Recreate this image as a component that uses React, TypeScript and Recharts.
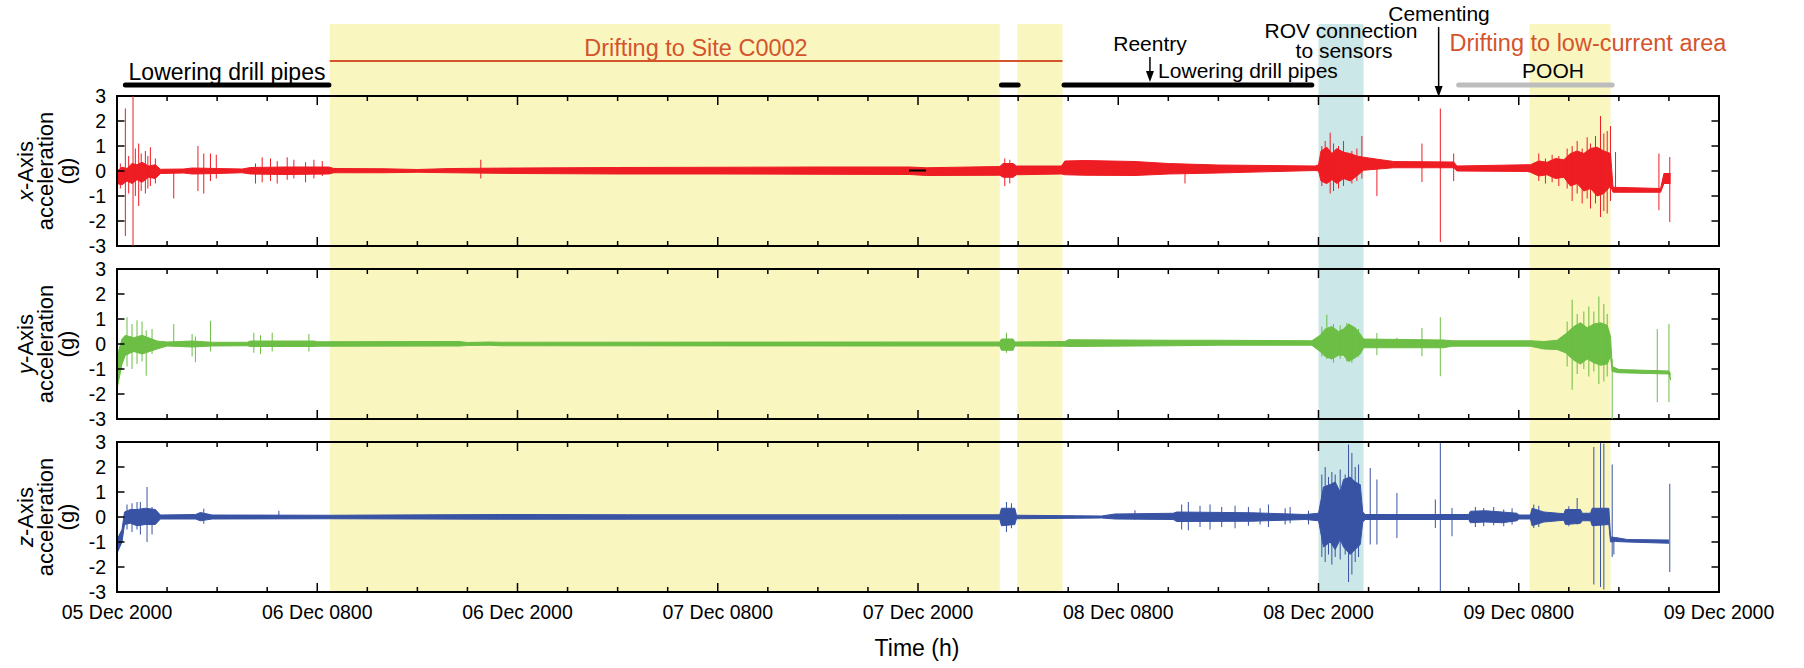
import {
  Area,
  ComposedChart,
  ReferenceArea,
  ReferenceLine,
  XAxis,
  YAxis,
} from "recharts";

const W = 1804;
const H = 668;
const PLOT_LEFT = 117;
const PLOT_RIGHT = 1719;
const PANEL_H = 150;
const Y_W = 40;
const FONT = '"Liberation Sans", Arial, Helvetica, sans-serif';

// hours since 05 Dec 2000 20:00
const timeLabels = [
  "05 Dec 2000",
  "06 Dec 0800",
  "06 Dec 2000",
  "07 Dec 0800",
  "07 Dec 2000",
  "08 Dec 0800",
  "08 Dec 2000",
  "09 Dec 0800",
  "09 Dec 2000",
];
const majorTicks = [0, 12, 24, 36, 48, 60, 72, 84, 96];
const minorTicks = [3, 6, 9, 15, 18, 21, 27, 30, 33, 39, 42, 45, 51, 54, 57, 63, 66, 69, 75, 78, 81, 87, 90, 93];
const gTicks = [-3, -2, -1, 0, 1, 2, 3];

// shaded periods
const yellowSpans: [number, number][] = [
  [12.75, 52.9],
  [53.95, 56.66],
  [84.65, 89.5],
];
const rovSpan: [number, number] = [72.0, 74.7];

// operation bars on top
const loweringBars: [number, number][] = [
  [0.5, 12.7],
  [53.0, 54.0],
  [56.75, 71.6],
];
const driftBar: [number, number] = [12.75, 56.66];
const poohBar: [number, number] = [80.4, 89.6];
const reentryAt = 61.9;
const cementingAt = 79.2;

// envelope of each record: [hour, low, high] in g
const xBand: [number, number, number][] = [
  [0, -0.5, 0.0], [0.3, -0.55, 0.15], [0.6, -0.4, 0.1], [0.9, -0.5, 0.3],
  [1.2, -0.35, 0.25], [1.5, -0.45, 0.35], [1.9, -0.25, 0.2], [2.3, -0.3, 0.25],
  [2.6, -0.1, 0.07], [4.0, -0.08, 0.08], [4.5, -0.12, 0.12], [6.0, -0.1, 0.1],
  [7.5, -0.07, 0.08], [8.0, -0.12, 0.14], [10.0, -0.14, 0.16], [12.7, -0.12, 0.16],
  [13.0, -0.07, 0.1], [16.0, -0.07, 0.09], [18.0, -0.05, 0.06], [20.0, -0.07, 0.1],
  [24.0, -0.1, 0.12], [30.0, -0.12, 0.14], [36.0, -0.12, 0.15], [42.0, -0.13, 0.16],
  [47.5, -0.14, 0.16], [48.5, -0.18, 0.13], [52.9, -0.17, 0.18], [53.1, -0.25, 0.3],
  [53.7, -0.25, 0.3], [53.9, -0.15, 0.2], [56.6, -0.12, 0.2], [56.8, -0.15, 0.4],
  [58.0, -0.17, 0.42], [61.0, -0.18, 0.38], [63.0, -0.12, 0.3], [66.0, -0.08, 0.24],
  [71.8, 0.02, 0.2], [72.0, 0.0, 0.25], [72.15, -0.4, 0.8], [72.5, -0.5, 0.95],
  [72.8, -0.35, 0.7], [73.1, -0.5, 0.9], [73.5, -0.3, 0.75], [73.9, -0.4, 0.7],
  [74.3, -0.2, 0.6], [74.7, 0.03, 0.55], [76.5, 0.13, 0.38], [80.1, 0.13, 0.36],
  [80.3, 0.0, 0.2], [84.5, -0.02, 0.25], [84.7, -0.05, 0.25], [85.2, -0.2, 0.4],
  [85.7, -0.15, 0.35], [86.2, -0.3, 0.5], [86.7, -0.25, 0.45], [87.1, -0.6, 0.7],
  [87.5, -0.5, 0.8], [87.9, -0.8, 0.7], [88.3, -0.7, 0.9], [88.7, -1.0, 0.95],
  [89.1, -0.9, 0.8], [89.5, -0.6, 0.7], [89.65, -0.85, -0.65], [92.5, -0.85, -0.7],
  [92.7, -0.5, -0.1], [93.1, -0.5, -0.1],
];
const xSpikes: [number, number, number][] = [
  [0.2, -0.7, 0.3], [0.5, -2.6, 2.5], [0.7, -0.9, 0.6], [0.96, -3, 3], [1.1, -1.0, 0.9],
  [1.3, -1.4, 1.1], [1.45, -0.8, 0.7], [1.7, -0.9, 0.8], [1.85, -0.7, 0.6], [2.0, -0.6, 0.95],
  [2.3, -0.5, 0.5], [3.4, -1.1, 0], [4.85, -0.8, 1.0], [5.2, -0.9, 0.7], [5.6, -0.4, 0.7],
  [5.95, -0.3, 0.65], [8.3, -0.5, 0.3], [8.7, -0.45, 0.55], [9.2, -0.4, 0.5], [9.6, -0.5, 0.4],
  [10.2, -0.35, 0.55], [10.6, -0.3, 0.45], [11.3, -0.45, 0.35], [11.8, -0.3, 0.45],
  [12.3, -0.2, 0.4], [21.8, -0.3, 0.45], [53.2, -0.6, 0.5], [53.5, -0.5, 0.45],
  [64.0, -0.5, 0.2], [72.2, -0.6, 1.0], [72.4, -0.5, 1.2], [72.7, -0.9, 1.53],
  [72.9, -0.8, 1.1], [73.2, -0.7, 1.0], [73.5, -0.6, 1.2], [74.0, -0.5, 0.8],
  [74.3, -0.4, 0.9], [74.6, -0.3, 1.4], [75.5, -1.0, 0.2], [78.2, -0.44, 1.1],
  [79.3, -2.84, 2.5], [80.1, -0.4, 0.7], [85.2, -0.4, 0.7], [85.6, -0.5, 0.5],
  [86.0, -0.45, 0.65], [86.4, -0.6, 0.6], [86.9, -0.7, 0.9], [87.2, -1.2, 1.0],
  [87.5, -0.9, 1.2], [87.8, -1.3, 0.9], [88.1, -1.1, 1.35], [88.3, -1.5, 1.1],
  [88.6, -1.3, 1.4], [88.9, -1.84, 2.2], [89.1, -1.6, 1.5], [89.3, -1.7, 1.6],
  [89.5, -1.2, 1.8], [89.8, -0.7, 0.76], [92.4, -1.57, 0.7], [93.05, -2.04, 0.56],
];

const yBand: [number, number, number][] = [
  [0, -1.8, -0.5], [0.3, -0.8, 0.2], [0.5, -0.45, 0.35], [1.0, -0.3, 0.25],
  [1.5, -0.4, 0.35], [2.4, -0.2, 0.12], [3.0, -0.08, 0.08], [4.5, -0.12, 0.12],
  [5.7, -0.08, 0.07], [7.8, -0.07, 0.07], [8.0, -0.1, 0.12], [11.8, -0.1, 0.12],
  [12.0, -0.09, 0.09], [20.5, -0.08, 0.1], [21.0, -0.06, 0.06], [22.3, -0.05, 0.08],
  [23.0, -0.07, 0.07], [46.9, -0.08, 0.08], [52.9, -0.08, 0.08], [53.0, -0.25, 0.2],
  [53.7, -0.25, 0.2], [53.8, -0.08, 0.08], [56.8, -0.09, 0.1], [57.0, -0.1, 0.17],
  [63.3, -0.07, 0.15], [66.0, -0.05, 0.15], [71.6, -0.05, 0.13], [72.1, -0.3, 0.35],
  [72.4, -0.5, 0.6], [72.8, -0.6, 0.7], [73.2, -0.45, 0.5], [73.5, -0.45, 0.6],
  [73.8, -0.7, 0.8], [74.2, -0.55, 0.65], [74.5, -0.4, 0.4], [74.7, -0.15, 0.2],
  [79.5, -0.15, 0.16], [80.0, -0.09, 0.13], [84.7, -0.09, 0.13], [85.5, -0.2, 0.1],
  [86.3, -0.22, 0.15], [86.8, -0.35, 0.4], [87.3, -0.65, 0.7], [87.7, -0.8, 0.85],
  [88.1, -0.6, 0.65], [88.5, -0.75, 0.8], [88.9, -0.85, 0.85], [89.3, -0.8, 0.75],
  [89.5, -0.5, 0.3], [89.6, -1.1, -0.9], [90.0, -1.15, -1.02], [93.0, -1.2, -1.08],
  [93.1, -1.45, -1.2],
];
const ySpikes: [number, number, number][] = [
  [0.6, -0.9, 1.07], [0.9, -1.0, 0.8], [1.2, -0.8, 0.95], [1.5, -0.7, 0.9],
  [1.75, -1.27, 0.55], [2.1, -0.4, 0.6], [3.4, -0.1, 0.8], [4.5, -0.5, 0.4],
  [4.7, -0.73, 0.3], [5.6, -0.3, 0.93], [8.2, -0.35, 0.45], [8.6, -0.4, 0.35],
  [9.3, -0.3, 0.45], [11.5, -0.3, 0.4], [53.3, -0.35, 0.45], [72.2, -0.5, 0.7],
  [72.5, -0.6, 1.17], [72.9, -0.75, 0.8], [73.3, -0.6, 0.75], [73.7, -0.7, 0.84],
  [74.0, -0.76, 0.7], [74.4, -0.5, 0.6], [75.5, -0.45, 0.44], [76.7, -0.1, 0.25],
  [78.2, -0.49, 0.64], [79.3, -1.29, 1.07], [86.9, -0.9, 0.9], [87.2, -1.83, 1.77],
  [87.5, -1.2, 1.2], [87.9, -1.0, 1.3], [88.2, -1.3, 1.5], [88.5, -1.1, 1.3],
  [88.8, -1.6, 1.9], [89.1, -1.5, 1.6], [89.3, -1.3, 1.2], [89.6, -3.0, -0.6],
  [92.3, -2.33, 0.6], [93.0, -2.33, 0.8],
];

const zBand: [number, number, number][] = [
  [0, -1.45, -0.9], [0.3, -1.0, -0.5], [0.45, -0.3, 0.2], [0.8, -0.25, 0.3],
  [1.2, -0.35, 0.3], [1.7, -0.3, 0.35], [2.3, -0.3, 0.3], [2.6, -0.08, 0.08],
  [4.7, -0.08, 0.1], [5.0, -0.15, 0.18], [5.7, -0.08, 0.08], [12.75, -0.07, 0.07],
  [23.0, -0.09, 0.1], [30.6, -0.09, 0.09], [46.9, -0.09, 0.09], [52.9, -0.09, 0.09],
  [53.0, -0.35, 0.35], [53.8, -0.3, 0.35], [53.9, -0.07, 0.07], [57.5, -0.05, 0.05],
  [59.0, -0.04, 0.04], [59.8, -0.08, 0.12], [63.3, -0.1, 0.15], [63.5, -0.18, 0.2],
  [68.0, -0.17, 0.17], [71.2, -0.1, 0.1], [72.0, -0.15, 0.15], [72.1, -0.5, 0.5],
  [72.3, -1.2, 1.2], [72.7, -1.0, 1.3], [73.0, -1.3, 1.4], [73.3, -0.9, 1.0],
  [73.5, -1.2, 1.5], [73.9, -1.5, 1.6], [74.2, -1.3, 1.4], [74.5, -1.1, 1.3],
  [74.65, -0.2, 0.2], [74.8, -0.1, 0.1], [81.0, -0.1, 0.1], [81.1, -0.23, 0.23],
  [82.0, -0.2, 0.25], [83.0, -0.23, 0.2], [83.9, -0.15, 0.15], [84.0, -0.08, 0.08],
  [84.7, -0.08, 0.08], [84.8, -0.35, 0.35], [85.5, -0.2, 0.2], [86.7, -0.13, 0.13],
  [86.8, -0.3, 0.3], [87.7, -0.25, 0.3], [87.8, -0.15, 0.15], [88.3, -0.15, 0.15],
  [88.4, -0.35, 0.35], [89.4, -0.3, 0.35], [89.5, -1.0, -0.8], [89.8, -0.98, -0.82],
  [90.5, -1.0, -0.9], [93.0, -1.05, -0.92],
];
const zSpikes: [number, number, number][] = [
  [0.6, -0.5, 0.5], [0.9, -0.6, 0.55], [1.2, -0.5, 0.6], [1.4, -0.7, 0.6],
  [1.8, -1.0, 1.2], [2.1, -0.7, 0.4], [5.2, -0.27, 0.33], [9.7, -0.05, 0.25],
  [53.3, -0.6, 0.6], [53.6, -0.45, 0.55], [61.0, -0.1, 0.27], [63.8, -0.5, 0.5],
  [64.2, -0.53, 0.6], [64.9, -0.4, 0.45], [65.5, -0.5, 0.5], [66.2, -0.4, 0.4],
  [67.0, -0.45, 0.45], [67.8, -0.35, 0.4], [68.5, -0.3, 0.35], [69.0, -0.4, 0.5],
  [70.0, -0.3, 0.35], [70.3, -0.25, 0.4], [71.4, -0.3, 0.25], [72.2, -1.6, 1.7],
  [72.4, -1.8, 2.0], [72.6, -1.5, 1.6], [72.8, -1.9, 1.8], [73.0, -1.6, 1.7],
  [73.3, -1.7, 1.9], [73.6, -1.5, 1.7], [73.8, -2.6, 2.9], [74.0, -2.3, 2.56],
  [74.2, -1.8, 2.0], [74.4, -1.6, 2.1], [75.1, -1.1, 1.96], [75.5, -1.1, 1.5],
  [76.7, -0.84, 0.96], [79.0, -0.44, 0.7], [79.3, -2.97, 2.96], [80.0, -0.77, 0.36],
  [81.4, -0.4, 0.4], [81.9, -0.37, 0.36], [82.5, -0.33, 0.4], [83.1, -0.37, 0.3],
  [83.6, -0.3, 0.35], [84.9, -0.44, 0.5], [85.2, -0.4, 0.45], [87.0, -0.37, 0.43],
  [87.5, -0.3, 0.76], [88.5, -2.7, 2.8], [88.9, -2.8, 2.96], [89.1, -2.9, 2.93],
  [89.6, -1.6, 2.1], [89.7, -1.5, -0.9], [93.05, -2.2, 1.33],
];

// short black dash drawn in the x record
const xDash: [number, number, number] = [47.46, 48.48, 0.02];

const RED = "#ee1d23";
const GREEN = "#6cbe45";
const BLUE = "#3953a4";
const YELLOW = "#faf6c0";
const CYAN = "#cce7e8";
const ORANGE = "#d4542c";

// tick lengths in data units (25 px per g, 16.69 px per hour)
const MAJOR_LEN = 0.36;
const MINOR_LEN = 0.2;
const Y_TICK_LEN = 0.45;

function capLine(p: any) {
  return (
    <line
      x1={p.x1}
      y1={p.y1}
      x2={p.x2}
      y2={p.y2}
      stroke={p.stroke}
      strokeWidth={p.strokeWidth}
      strokeLinecap="round"
    />
  );
}

function arrowLine(p: any) {
  return (
    <g>
      <line x1={p.x1} y1={p.y1} x2={p.x2} y2={p.y2 - 8} stroke="#000" strokeWidth={1.5} />
      <path d={`M${p.x2 - 4},${p.y2 - 11} L${p.x2 + 4},${p.y2 - 11} L${p.x2},${p.y2} Z`} fill="#000" />
    </g>
  );
}

const anchorData = majorTicks.map((t) => ({ t, v: 0.5 }));

function Background() {
  return (
    <div style={{ position: "absolute", left: 0, top: 0 }}>
      <ComposedChart
        width={W}
        height={H}
        data={anchorData}
        margin={{ top: 24, right: W - PLOT_RIGHT, bottom: 76, left: PLOT_LEFT }}
      >
        <XAxis type="number" dataKey="t" domain={[0, 96]} hide />
        <YAxis type="number" domain={[0, 1]} hide />
        {yellowSpans.map(([a, b], i) => (
          <ReferenceArea key={i} x1={a} x2={b} y1={0} y2={1} fill={YELLOW} fillOpacity={1} stroke="none" />
        ))}
        <ReferenceArea x1={rovSpan[0]} x2={rovSpan[1]} y1={0} y2={1} fill={CYAN} fillOpacity={1} stroke="none" />
        <Area dataKey="v" stroke="none" fill="none" dot={false} activeDot={false} isAnimationActive={false} />
      </ComposedChart>
    </div>
  );
}

function Annotations() {
  return (
    <div style={{ position: "absolute", left: 0, top: 0 }}>
      <ComposedChart
        width={W}
        height={100}
        data={anchorData}
        margin={{ top: 0, right: W - PLOT_RIGHT, bottom: 0, left: PLOT_LEFT }}
      >
        <XAxis type="number" dataKey="t" domain={[0, 96]} hide />
        <YAxis type="number" domain={[0, 100]} reversed hide />
        <Area dataKey="v" stroke="none" fill="none" dot={false} activeDot={false} isAnimationActive={false} />
        <ReferenceLine
          segment={[{ x: driftBar[0], y: 61 }, { x: driftBar[1], y: 61 }]}
          stroke={ORANGE}
          strokeWidth={2}
        />
        {loweringBars.map(([a, b], i) => (
          <ReferenceLine
            key={i}
            segment={[{ x: a, y: 85 }, { x: b, y: 85 }]}
            stroke="#000"
            strokeWidth={5}
            shape={capLine}
          />
        ))}
        <ReferenceLine
          segment={[{ x: poohBar[0], y: 85 }, { x: poohBar[1], y: 85 }]}
          stroke="#bdbdbd"
          strokeWidth={5}
          shape={capLine}
        />
        <ReferenceLine
          segment={[{ x: reentryAt, y: 57 }, { x: reentryAt, y: 82 }]}
          stroke="#000"
          shape={arrowLine}
        />
        <ReferenceLine
          segment={[{ x: cementingAt, y: 27 }, { x: cementingAt, y: 97 }]}
          stroke="#000"
          shape={arrowLine}
        />
      </ComposedChart>
    </div>
  );
}

type PanelProps = {
  top: number;
  band: [number, number, number][];
  spikes: [number, number, number][];
  color: string;
  showTime?: boolean;
  dash?: [number, number, number];
};

function Panel({ top, band, spikes, color, showTime, dash }: PanelProps) {
  const data = band.map(([t, lo, hi]) => ({ t, range: [lo, hi] }));
  const bottomH = 40;
  const tickStyle = { stroke: "#000", strokeWidth: 1.5 };
  return (
    <div style={{ position: "absolute", left: 0, top: 0 }}>
      <ComposedChart
        width={W}
        height={H}
        data={data}
        margin={{
          top,
          right: W - PLOT_RIGHT,
          bottom: H - top - PANEL_H - bottomH,
          left: PLOT_LEFT - Y_W,
        }}
      >
        <XAxis
          type="number"
          dataKey="t"
          domain={[0, 96]}
          ticks={majorTicks}
          interval={0}
          height={bottomH}
          axisLine={false}
          tickLine={false}
          tickSize={0}
          tickMargin={13}
          allowDataOverflow
          tickFormatter={(v: number) => (showTime ? timeLabels[Math.round(v / 12)] : "")}
          tick={{ fill: "#000", fontSize: 19.5, fontFamily: FONT }}
        />
        <YAxis
          type="number"
          domain={[-3, 3]}
          ticks={gTicks}
          interval={0}
          width={Y_W}
          axisLine={false}
          tickLine={false}
          tickSize={0}
          tickMargin={11}
          allowDataOverflow
          tick={{ fill: "#000", fontSize: 19.5, fontFamily: FONT }}
        />
        <Area
          type="linear"
          dataKey="range"
          stroke={color}
          strokeWidth={1}
          fill={color}
          fillOpacity={1}
          dot={false}
          activeDot={false}
          isAnimationActive={false}
        />
        {spikes.map(([t, lo, hi], i) => (
          <ReferenceLine
            key={`s${i}`}
            segment={[{ x: t, y: lo }, { x: t, y: hi }]}
            stroke={color}
            strokeWidth={1}
          />
        ))}
        {dash && (
          <ReferenceLine
            segment={[{ x: dash[0], y: dash[2] }, { x: dash[1], y: dash[2] }]}
            stroke="#000"
            strokeWidth={2}
          />
        )}
        {majorTicks.map((t) => (
          <ReferenceLine key={`mb${t}`} segment={[{ x: t, y: -3 }, { x: t, y: -3 + MAJOR_LEN }]} {...tickStyle} />
        ))}
        {majorTicks.map((t) => (
          <ReferenceLine key={`mt${t}`} segment={[{ x: t, y: 3 }, { x: t, y: 3 - MAJOR_LEN }]} {...tickStyle} />
        ))}
        {minorTicks.map((t) => (
          <ReferenceLine key={`nb${t}`} segment={[{ x: t, y: -3 }, { x: t, y: -3 + MINOR_LEN }]} {...tickStyle} />
        ))}
        {minorTicks.map((t) => (
          <ReferenceLine key={`nt${t}`} segment={[{ x: t, y: 3 }, { x: t, y: 3 - MINOR_LEN }]} {...tickStyle} />
        ))}
        {gTicks.map((g) => (
          <ReferenceLine key={`yl${g}`} segment={[{ x: 0, y: g }, { x: Y_TICK_LEN, y: g }]} {...tickStyle} />
        ))}
        {gTicks.map((g) => (
          <ReferenceLine key={`yr${g}`} segment={[{ x: 96, y: g }, { x: 96 - Y_TICK_LEN, y: g }]} {...tickStyle} />
        ))}
        <ReferenceArea
          x1={0}
          x2={96}
          y1={-3}
          y2={3}
          fill="none"
          fillOpacity={0}
          stroke="#000"
          strokeWidth={2}
          ifOverflow="visible"
        />
      </ComposedChart>
    </div>
  );
}

function AxisTitle({ cy, axis }: { cy: number; axis: string }) {
  return (
    <g fontFamily={FONT} fontSize={22} fill="#000" textAnchor="middle">
      <text transform={`translate(33,${cy}) rotate(-90)`}>
        <tspan fontStyle="italic">{axis}</tspan>-Axis
      </text>
      <text transform={`translate(53,${cy}) rotate(-90)`}>acceleration</text>
      <text transform={`translate(74,${cy}) rotate(-90)`}>(g)</text>
    </g>
  );
}

function Texts() {
  return (
    <svg width={W} height={H} style={{ position: "absolute", left: 0, top: 0, pointerEvents: "none" }}>
      <g fontFamily={FONT} fontSize={21} fill="#000" textAnchor="middle">
        <text x={227} y={80} fontSize={23}>Lowering drill pipes</text>
        <text x={1150} y={51}>Reentry</text>
        <text x={1248} y={78}>Lowering drill pipes</text>
        <text x={1341} y={38}>ROV connection</text>
        <text x={1344} y={58}>to sensors</text>
        <text x={1439} y={21}>Cementing</text>
        <text x={1553} y={78}>POOH</text>
      </g>
      <g fontFamily={FONT} fontSize={23.5} fill={ORANGE} textAnchor="middle">
        <text x={696} y={56}>Drifting to Site C0002</text>
        <text x={1588} y={51}>Drifting to low-current area</text>
      </g>
      <AxisTitle cy={171} axis="x" />
      <AxisTitle cy={344} axis="y" />
      <AxisTitle cy={517} axis="z" />
      <text x={917} y={656} fontFamily={FONT} fontSize={23} textAnchor="middle" fill="#000">
        Time (h)
      </text>
    </svg>
  );
}

export default function App() {
  return (
    <div style={{ position: "absolute", left: 0, top: 0, width: W, height: H, background: "#fff" }}>
      <Background />
      <Annotations />
      <Panel top={96} band={xBand} spikes={xSpikes} color={RED} dash={xDash} />
      <Panel top={269} band={yBand} spikes={ySpikes} color={GREEN} />
      <Panel top={442} band={zBand} spikes={zSpikes} color={BLUE} showTime />
      <Texts />
    </div>
  );
}
